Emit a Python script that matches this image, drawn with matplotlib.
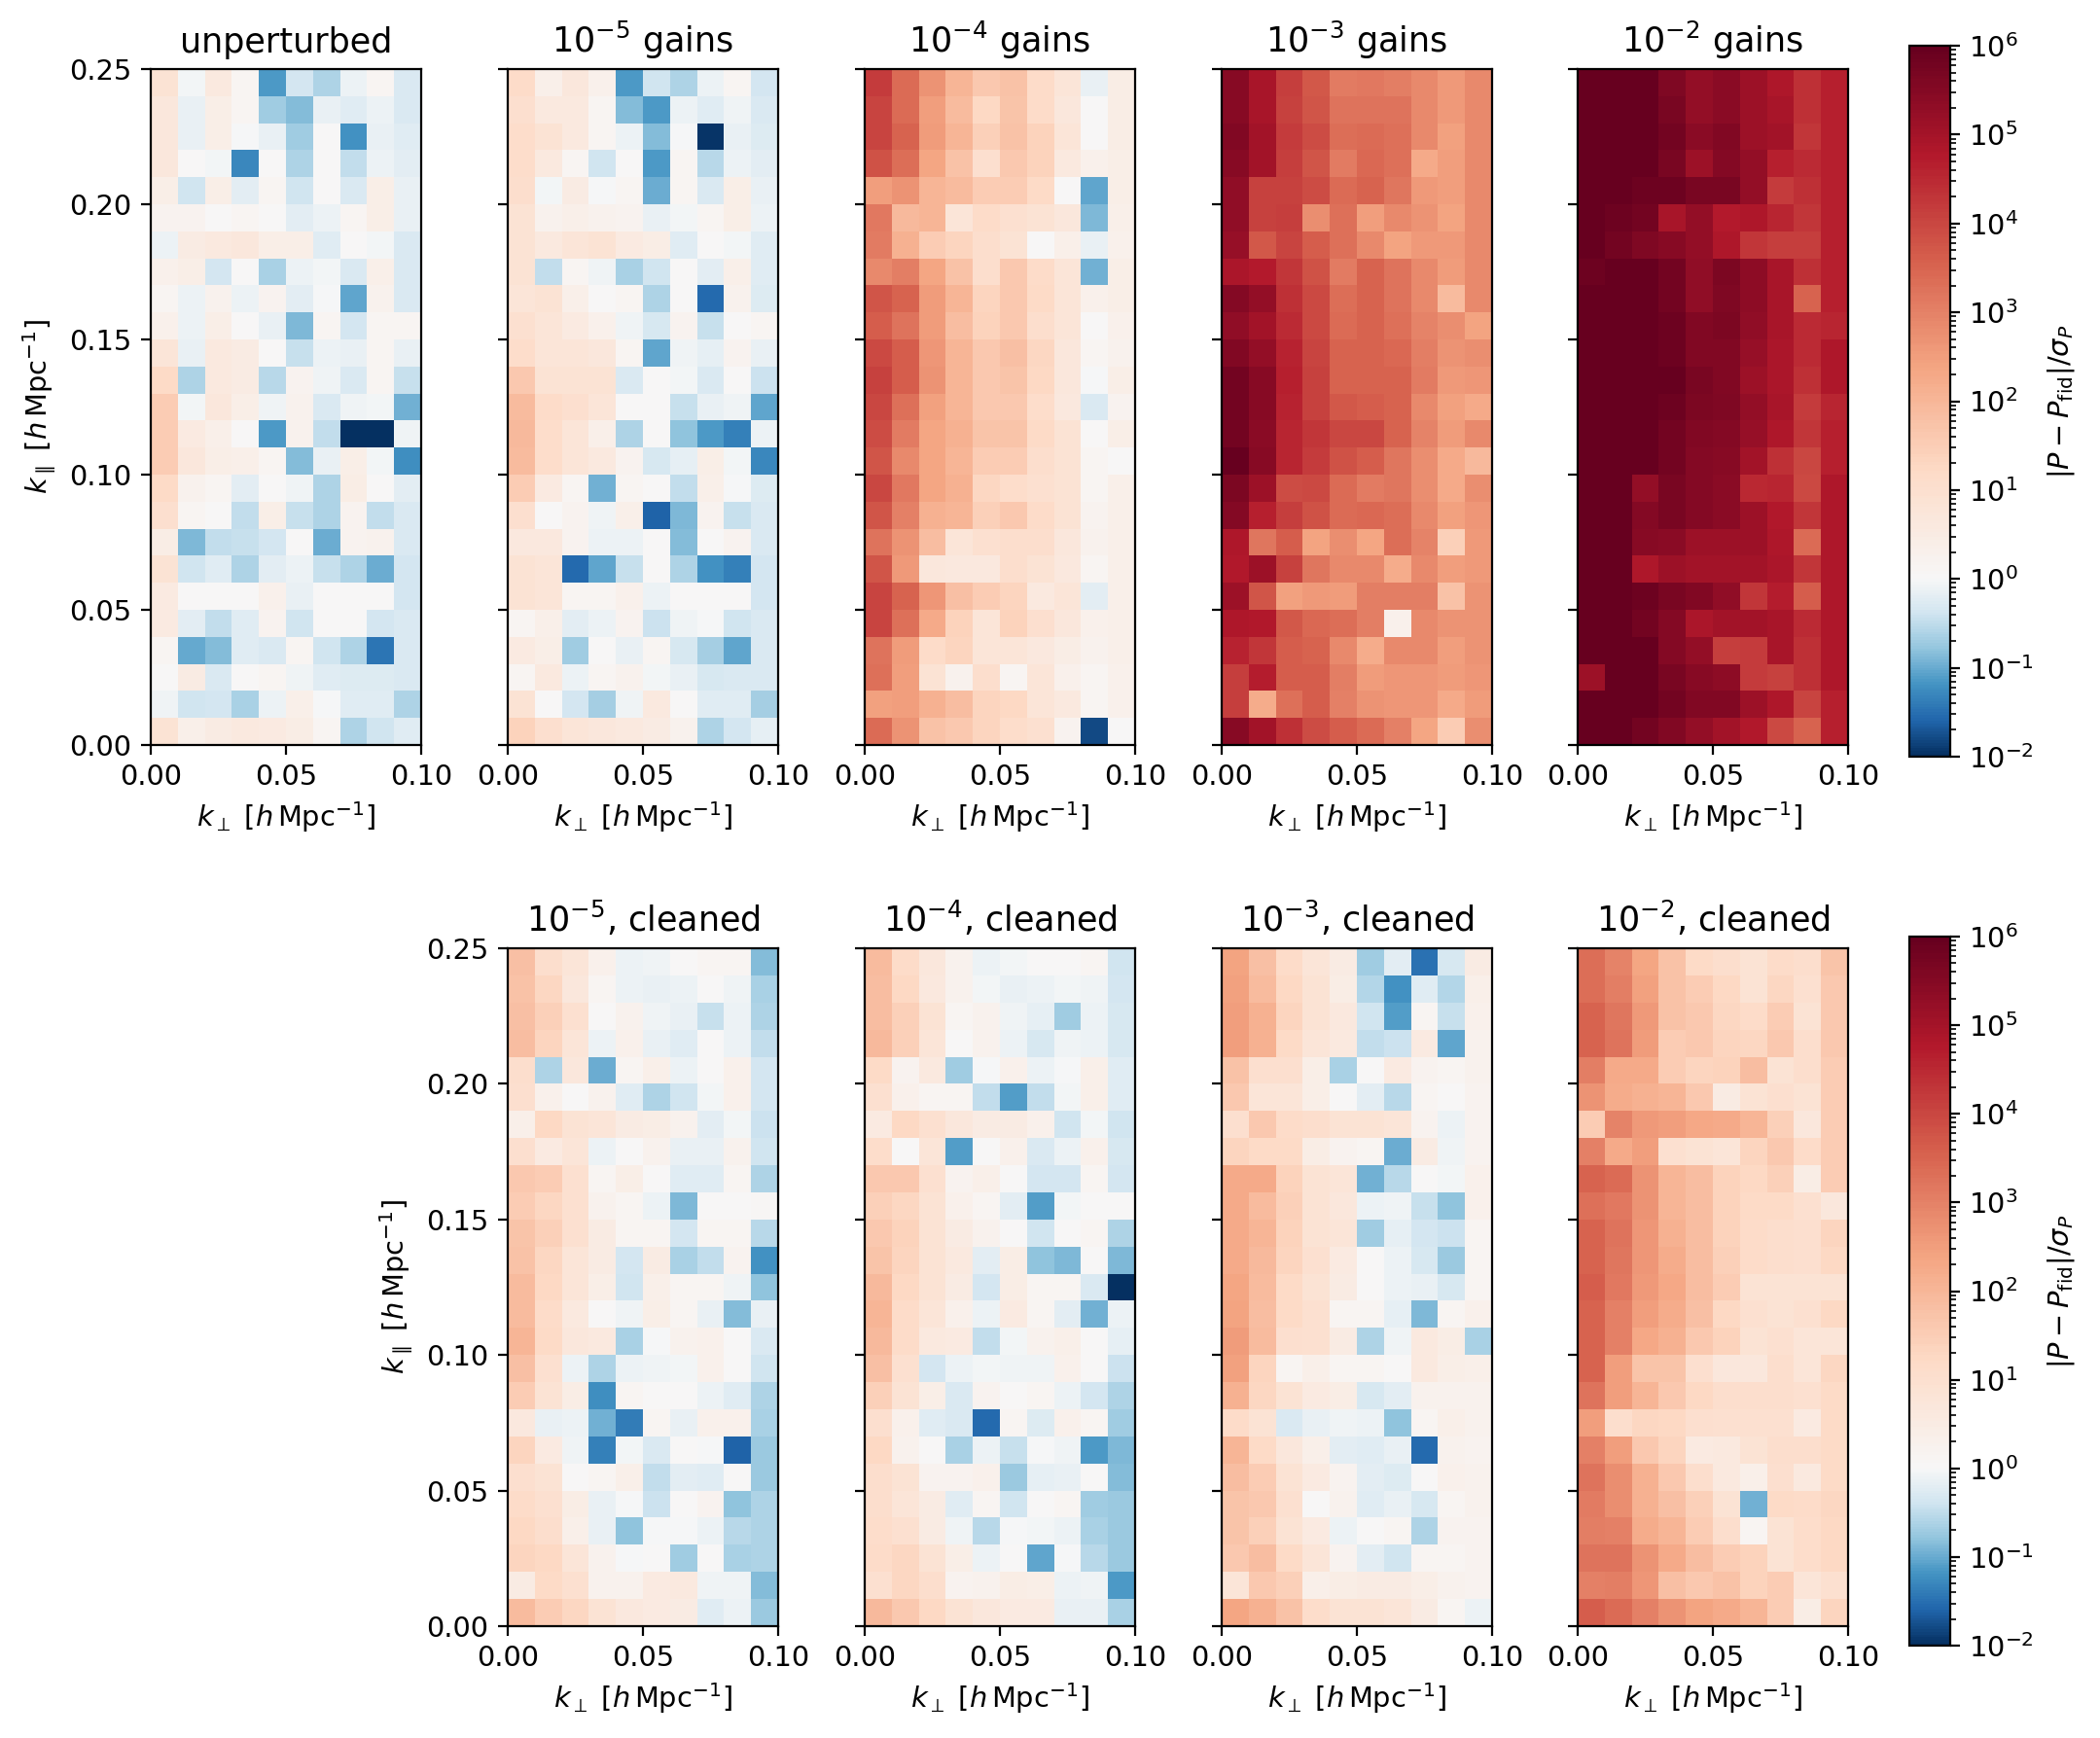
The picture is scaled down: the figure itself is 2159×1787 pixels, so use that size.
import numpy as np
import matplotlib
matplotlib.use("Agg")
import matplotlib.pyplot as plt
from matplotlib.colors import ListedColormap, LogNorm

# log10(|P - Pfid| / sigma), rows listed from the top of the panel (high k_par) down
unperturbed = [
    [0.9, -0.05, 0.6, 0.15, -1.15, -0.35, -0.6, -0.1, 0.15, -0.3],
    [0.7, -0.15, 0.4, 0.1, -0.7, -0.85, -0.15, -0.25, -0.1, -0.3],
    [0.7, -0.15, 0.4, -0.03, -0.15, -0.7, 0, -1.2, -0.15, -0.25],
    [0.7, 0.05, -0.05, -1.3, 0, -0.6, 0, -0.5, -0.1, -0.2],
    [0.4, -0.4, 0.4, -0.2, 0.15, -0.4, 0.05, -0.3, 0.4, -0.15],
    [0.2, 0.2, 0.05, 0.1, 0, -0.2, -0.1, 0.1, 0.4, -0.15],
    [-0.1, 0.5, 0.6, 0.7, 0.4, 0.4, -0.25, 0, -0.05, -0.3],
    [0.3, 0.4, -0.35, 0, -0.65, -0.12, -0.05, -0.3, 0.35, -0.3],
    [0.15, -0.12, 0.25, -0.1, 0.2, -0.2, -0.02, -1.05, 0.25, -0.3],
    [0.3, -0.12, 0.4, 0, -0.15, -0.9, 0.15, -0.35, 0.1, 0.15],
    [0.8, -0.15, 0.6, 0.5, 0, -0.45, -0.1, -0.15, 0.15, -0.15],
    [1.2, -0.6, 0.6, 0.5, -0.55, 0.2, -0.07, -0.3, 0.1, -0.45],
    [1.55, -0.05, 0.7, 0.4, -0.07, 0.25, -0.3, -0.07, -0.05, -0.95],
    [1.55, 0.55, 0.35, 0.05, -1.15, 0.25, -0.5, -2, -2, -0.08],
    [1.55, 0.7, 0.4, 0.35, 0.15, -0.85, -0.13, 0.4, -0.05, -1.25],
    [1.2, 0.25, 0.1, -0.2, 0.05, -0.08, -0.6, 0.45, 0, -0.2],
    [1.0, 0.15, 0, -0.5, 0.4, -0.45, -0.6, 0.2, -0.5, -0.3],
    [0.45, -0.9, -0.5, -0.45, -0.35, 0, -1, 0.2, 0.25, -0.3],
    [0.85, -0.4, -0.25, -0.6, -0.2, -0.1, -0.45, -0.6, -1, -0.35],
    [0.55, 0, 0, 0, 0.3, -0.15, 0, 0, 0, -0.35],
    [0.55, -0.2, -0.5, -0.25, 0.2, -0.4, 0, 0, -0.35, -0.3],
    [0.15, -1.02, -0.85, -0.25, -0.3, 0.15, -0.4, -0.6, -1.45, -0.3],
    [0, 0.5, -0.3, 0, 0.15, -0.08, -0.25, -0.27, -0.27, -0.3],
    [-0.08, -0.4, -0.35, -0.65, -0.1, 0.35, -0.03, -0.25, -0.25, -0.6],
    [0.9, 0.35, 0.5, 0.6, 0.55, 0.45, 0.1, -0.6, -0.4, -0.25],
]
gains_1e5 = [
    [1.15, 0.35, 0.7, 0.3, -1.15, -0.4, -0.6, -0.12, 0.15, -0.35],
    [1.0, 0.6, 0.6, 0.15, -0.85, -1.15, -0.1, -0.25, -0.08, -0.3],
    [1.1, 0.9, 0.6, 0.15, -0.12, -0.85, -0.02, -1.95, -0.15, -0.27],
    [1.1, 0.6, 0.1, -0.4, 0, -1.15, 0.1, -0.55, -0.1, -0.2],
    [1.05, -0.05, 0.5, -0.02, 0.1, -1, 0.15, -0.3, 0.4, -0.15],
    [0.85, 0.25, 0.35, 0.25, 0.2, -0.15, -0.05, 0.1, 0.4, -0.12],
    [0.9, 0.6, 0.75, 0.85, 0.55, 0.45, -0.25, 0, -0.05, -0.22],
    [0.85, -0.5, 0.12, -0.08, -0.65, -0.4, 0, -0.2, 0.35, -0.25],
    [0.75, 0.85, 0.35, 0.05, 0.15, -0.6, 0.05, -1.55, 0.25, -0.28],
    [0.95, 0.75, 0.55, 0.3, -0.08, -0.33, 0.2, -0.45, 0.05, 0.15],
    [1.1, 0.8, 0.8, 0.7, 0.1, -1.05, -0.08, -0.18, 0.2, -0.15],
    [1.6, 0.85, 0.85, 0.85, -0.3, 0, -0.05, -0.3, 0.05, -0.42],
    [1.9, 1.15, 1.0, 0.75, 0, 0, -0.45, -0.15, -0.08, -1.05],
    [1.95, 1.1, 0.75, 0.35, -0.6, 0.05, -0.8, -1.15, -1.35, -0.12],
    [1.9, 1.1, 0.75, 0.6, 0.2, -0.33, -0.17, 0.4, -0.05, -1.3],
    [1.55, 0.55, 0.15, -0.95, 0.15, 0, -0.5, 0.35, -0.02, -0.28],
    [1.0, 0, 0.2, -0.08, 0.35, -1.6, -0.9, 0.2, -0.45, -0.3],
    [0.65, 0.65, 0.2, -0.12, -0.1, 0, -0.85, 0.05, 0.2, -0.3],
    [0.85, 0.75, -1.55, -1.05, -0.45, 0, -0.62, -1.2, -1.35, -0.35],
    [0.85, 0.75, 0.15, 0.1, 0.3, -0.1, 0, 0, 0, -0.35],
    [0.15, 0.35, -0.2, -0.12, 0.2, -0.42, -0.07, -0.03, -0.38, -0.3],
    [0.55, 0.4, -0.7, 0, -0.15, 0.1, -0.33, -0.68, -1.05, -0.3],
    [0.1, 0.6, -0.1, 0.1, 0.25, -0.05, -0.15, -0.33, -0.3, -0.3],
    [0.9, 0, -0.35, -0.68, -0.08, 0.6, 0.03, -0.25, -0.22, -0.68],
    [1.4, 1.0, 0.75, 0.7, 0.6, 0.5, 0.25, -0.6, -0.37, -0.17],
]
gains_1e4 = [
    [4.2, 3.4, 2.7, 2.0, 1.6, 1.75, 1.15, 0.75, -0.15, 0.45],
    [4.05, 3.4, 2.5, 1.9, 1.25, 1.7, 1.15, 0.7, 0.05, 0.45],
    [4.05, 3.5, 2.55, 2.0, 1.45, 1.75, 1.4, 0.8, 0.05, 0.45],
    [3.8, 3.35, 2.35, 1.75, 1.0, 1.65, 1.4, 0.6, 0.3, 0.4],
    [2.5, 2.7, 2.05, 1.9, 1.5, 1.55, 1.2, 0, -1.05, 0.4],
    [3.15, 1.95, 2.0, 0.75, 1.15, 0.95, 0.9, 0.7, -0.9, 0.35],
    [3.1, 2.15, 1.55, 1.35, 1.05, 0.85, 0, 0.35, -0.15, 0.3],
    [2.85, 3.05, 2.35, 1.75, 1.05, 1.6, 1.15, 0.8, -0.95, 0.4],
    [3.75, 3.55, 2.55, 2, 1.35, 1.6, 1.2, 0.8, 0.3, 0.4],
    [3.65, 3.25, 2.55, 1.85, 1.4, 1.6, 1.05, 0.75, 0.05, 0.3],
    [3.95, 3.6, 2.65, 2.05, 1.65, 1.8, 1.3, 0.7, 0.1, 0.25],
    [4.1, 3.6, 2.7, 2.05, 1.65, 1.7, 1.25, 0.7, -0.03, 0.4],
    [4.0, 3.3, 2.45, 2.05, 1.65, 1.6, 1.1, 0.65, -0.3, 0.2],
    [3.9, 3.1, 2.35, 2.1, 1.7, 1.7, 1.2, 0.85, 0, 0.4],
    [3.75, 2.9, 2.35, 2.05, 1.55, 1.55, 1.05, 0.9, 0.15, 0],
    [4.0, 3.15, 2.35, 2.1, 1.3, 1.1, 0.95, 0.9, 0.15, 0.35],
    [3.75, 3.0, 2.1, 2.0, 1.45, 1.6, 1.15, 0.9, 0.2, 0.35],
    [3.25, 2.7, 1.85, 0.75, 0.95, 1.05, 1.05, 0.7, 0.25, 0.35],
    [3.75, 2.6, 0.7, 0.65, 0.65, 1.05, 0.85, 0.65, 0.15, 0.35],
    [4.05, 3.5, 2.65, 1.8, 1.5, 1.35, 0.6, 0.75, -0.2, 0.35],
    [4.05, 3.3, 2.25, 1.4, 0.8, 1.4, 1.0, 0.7, 0.3, 0.35],
    [3.25, 2.55, 1.15, 1.35, 0.8, 0.8, 0.65, 0.45, 0.25, 0.35],
    [3.3, 2.5, 0.9, 0.25, 1.05, 0.1, 0.8, 0.3, 0.1, 0.3],
    [2.45, 2.5, 2.15, 1.85, 1.35, 1.25, 0.75, 0.6, 0.15, 0.3],
    [3.4, 2.7, 1.75, 1.6, 1.35, 1.1, 0.95, 0.2, -1.8, 0.05],
]
gains_1e3 = [
    [5.45, 4.95, 4.15, 3.7, 3.1, 3.15, 3.05, 2.85, 2.6, 2.85],
    [5.45, 4.95, 4.1, 3.75, 3.25, 3.25, 3.25, 2.9, 2.6, 2.85],
    [5.55, 5.05, 4.2, 3.9, 3.35, 3.4, 3.3, 2.9, 2.45, 2.85],
    [5.45, 5.05, 4.15, 3.75, 3.1, 3.45, 3.3, 2.25, 2.5, 2.85],
    [5.3, 4.1, 4.1, 3.9, 3.4, 3.5, 3.2, 2.6, 2.5, 2.85],
    [5.3, 4.1, 4.15, 2.8, 3.3, 2.5, 2.85, 2.7, 2.4, 2.85],
    [5.2, 3.7, 4.05, 3.65, 3.3, 2.9, 2.4, 2.6, 2.6, 2.85],
    [4.9, 4.75, 4.3, 3.8, 3.1, 3.5, 3.25, 2.85, 2.55, 2.85],
    [5.5, 5.25, 4.4, 3.95, 3.35, 3.5, 3.25, 2.9, 1.9, 2.85],
    [5.3, 5.05, 4.45, 3.95, 3.4, 3.5, 3.3, 2.95, 2.75, 2.4],
    [5.55, 5.25, 4.6, 4.05, 3.55, 3.55, 3.45, 3.05, 2.7, 2.8],
    [5.75, 5.45, 4.65, 4.1, 3.55, 3.55, 3.5, 3.1, 2.6, 2.65],
    [5.75, 5.45, 4.6, 4.1, 3.7, 3.65, 3.5, 2.85, 2.45, 2.25],
    [5.8, 5.4, 4.55, 4.3, 4.0, 4.0, 3.55, 2.95, 2.55, 2.85],
    [5.95, 5.45, 4.55, 4.2, 3.8, 3.65, 3.2, 2.75, 2.25, 1.95],
    [5.65, 5.1, 3.9, 3.95, 3.4, 3.1, 3.2, 2.8, 2.25, 2.75],
    [5.5, 4.65, 4.15, 3.8, 3.4, 3.45, 3.35, 2.85, 2.45, 2.65],
    [4.85, 3.2, 3.65, 2.4, 2.75, 2.35, 3.35, 2.95, 1.45, 2.6],
    [4.8, 5.15, 4.1, 3.2, 2.9, 2.85, 2.2, 2.85, 2.5, 2.6],
    [5.1, 3.75, 2.45, 2.6, 2.55, 3.05, 3.05, 3.05, 1.75, 2.7],
    [4.85, 4.8, 3.7, 3.45, 3.35, 3.05, 0.3, 2.9, 2.7, 2.7],
    [4.6, 4.3, 3.6, 3.5, 2.9, 2.2, 2.9, 2.9, 2.5, 2.7],
    [4.15, 4.7, 3.65, 3.6, 3.05, 2.55, 2.65, 2.65, 2.55, 2.65],
    [4.15, 2.2, 3.3, 3.65, 3.0, 2.7, 2.65, 2.65, 2.25, 2.55],
    [5.45, 5.05, 4.4, 3.9, 3.6, 3.4, 3.0, 2.35, 1.55, 2.75],
]
gains_1e2 = [
    [6, 6, 6, 5.6, 5.25, 5.4, 5.1, 4.85, 4.4, 4.65],
    [6, 6, 6, 5.7, 5.25, 5.4, 5.15, 4.95, 4.35, 4.65],
    [6, 6, 6, 5.75, 5.4, 5.55, 5.15, 5.0, 4.25, 4.65],
    [6, 6, 5.95, 5.7, 5.15, 5.5, 5.25, 4.65, 4.45, 4.65],
    [6, 6, 5.85, 5.9, 5.7, 5.7, 5.25, 4.2, 4.4, 4.65],
    [6, 5.85, 5.75, 4.95, 5.25, 4.75, 4.85, 4.55, 4.3, 4.65],
    [6, 5.75, 5.6, 5.45, 5.25, 4.85, 4.3, 4.15, 4.15, 4.65],
    [5.85, 6, 6, 5.75, 5.3, 5.65, 5.35, 4.95, 4.4, 4.65],
    [6, 6, 6, 5.75, 5.3, 5.6, 5.35, 4.95, 3.55, 4.65],
    [6, 6, 6, 5.85, 5.55, 5.65, 5.3, 4.95, 4.45, 4.55],
    [6, 6, 6, 5.9, 5.55, 5.55, 5.2, 4.9, 4.45, 4.85],
    [6, 6, 6, 5.95, 5.7, 5.55, 5.15, 4.9, 4.4, 4.85],
    [6, 6, 6, 5.85, 5.65, 5.6, 5.25, 4.95, 4.2, 4.55],
    [6, 6, 6, 5.8, 5.55, 5.5, 5.2, 4.85, 4.25, 4.65],
    [6, 6, 6, 5.8, 5.5, 5.45, 5.05, 4.4, 4.0, 4.65],
    [6, 6, 5.25, 5.7, 5.5, 5.4, 4.5, 4.55, 3.95, 4.85],
    [6, 5.95, 5.5, 5.7, 5.5, 5.4, 5.1, 4.8, 4.3, 4.85],
    [6, 6, 5.45, 5.4, 5.1, 5.15, 5.1, 4.85, 3.4, 4.85],
    [6, 6, 4.85, 5.1, 5.05, 5.05, 5.05, 4.9, 4.25, 4.85],
    [6, 6, 5.9, 5.7, 5.55, 5.3, 4.3, 4.7, 3.65, 4.85],
    [6, 6, 5.75, 5.5, 4.9, 5.05, 5.05, 4.95, 4.45, 4.85],
    [6, 6, 6, 5.5, 5.25, 4.15, 4.2, 4.95, 4.35, 4.85],
    [5.15, 6, 6, 5.7, 5.45, 5.35, 4.2, 4.1, 4.35, 4.85],
    [6, 6, 6, 5.8, 5.55, 5.55, 5.15, 4.85, 4.05, 4.65],
    [6, 6, 5.75, 5.55, 5.25, 5.0, 4.8, 3.95, 3.5, 4.65],
]
cleaned_1e5 = [
    [1.8, 1.05, 0.75, 0.3, -0.12, -0.08, 0, 0.15, 0.15, -0.85],
    [1.75, 1.3, 0.7, 0.15, -0.12, -0.15, -0.12, 0.02, -0.08, -0.65],
    [1.8, 1.45, 0.95, 0.05, 0.25, -0.08, -0.15, -0.45, -0.12, -0.6],
    [1.85, 1.35, 0.75, -0.12, 0.3, -0.15, -0.25, 0, -0.1, -0.5],
    [1.05, -0.6, 0.7, -1, 0.15, 0.35, -0.1, 0.05, 0.3, -0.35],
    [1.0, 0.3, 0.05, 0.25, -0.25, -0.6, -0.4, -0.05, 0.3, -0.35],
    [0.35, 1.25, 0.85, 0.8, 0.5, 0.45, 0.25, -0.2, -0.05, -0.42],
    [1.0, 0.55, 0.75, -0.12, 0.02, 0.25, -0.15, -0.15, 0.25, -0.4],
    [1.6, 1.55, 0.95, 0.1, 0.4, 0.05, -0.25, -0.22, 0.1, -0.6],
    [1.55, 1.3, 0.95, 0.25, 0.1, -0.1, -0.9, 0, 0, 0.08],
    [1.7, 1.45, 0.95, 0.5, 0.15, 0.1, -0.37, 0.1, 0.1, -0.55],
    [1.75, 1.3, 0.75, 0.5, -0.35, 0.5, -0.65, -0.5, 0.2, -1.2],
    [1.9, 1.25, 0.8, 0.4, -0.4, 0.35, 0.1, 0.15, -0.07, -0.8],
    [1.9, 1.15, 0.6, 0.05, -0.07, 0.4, 0.15, -0.15, -0.85, -0.15],
    [2.0, 1.2, 0.7, 0.6, -0.65, -0.02, 0.25, 0.3, 0.02, -0.3],
    [1.8, 0.95, -0.1, -0.6, -0.1, -0.08, -0.05, 0.3, 0.05, -0.4],
    [1.5, 0.85, 0.45, -1.25, 0.15, 0, 0.05, -0.1, -0.25, -0.6],
    [0.65, -0.15, -0.12, -0.95, -1.4, 0.15, -0.15, 0.3, 0.3, -0.65],
    [1.35, 0.55, -0.08, -1.35, -0.05, -0.3, 0, -0.02, -1.6, -0.75],
    [1.0, 0.9, 0, 0.15, 0.35, -0.5, -0.2, -0.25, 0.05, -0.72],
    [1.15, 0.95, 0.45, -0.15, -0.02, -0.42, 0, 0.2, -0.8, -0.62],
    [1.25, 1.05, 0.35, -0.15, -0.8, -0.02, -0.02, -0.1, -0.55, -0.62],
    [1.35, 1.25, 0.75, 0.25, -0.02, 0.05, -0.7, 0, -0.65, -0.62],
    [0.5, 1.2, 0.95, 0.25, 0.25, 0.55, 0.6, -0.08, -0.08, -0.85],
    [1.9, 1.55, 1.3, 0.9, 0.65, 0.55, 0.5, -0.25, -0.12, -0.72],
]
cleaned_1e4 = [
    [1.9, 1.15, 0.7, 0.25, -0.1, -0.05, 0.05, 0.05, 0.1, -0.4],
    [1.85, 1.25, 0.65, 0.25, -0.05, -0.13, -0.12, -0.05, -0.08, -0.37],
    [1.85, 1.45, 0.9, 0.1, 0.25, -0.07, -0.18, -0.7, -0.12, -0.33],
    [1.95, 1.45, 0.75, 0.02, 0.25, -0.12, -0.33, -0.07, -0.1, -0.33],
    [1.2, 0.2, 0.6, -0.7, -0.02, 0.3, -0.1, -0.02, 0.35, -0.25],
    [0.95, 0.3, 0.1, 0.1, -0.5, -1.1, -0.5, -0.05, 0.35, -0.25],
    [0.55, 1.25, 0.95, 0.7, 0.5, 0.5, 0.3, -0.4, -0.05, -0.4],
    [1.1, 0.02, 0.8, -1.1, 0, 0.3, -0.3, -0.12, 0.3, -0.33],
    [1.65, 1.6, 0.95, 0.2, 0.35, 0.05, -0.37, -0.37, 0.15, -0.37],
    [1.45, 1.3, 0.85, 0.3, 0.1, -0.2, -1.1, -0.05, 0, 0.05],
    [1.6, 1.4, 0.9, 0.5, 0.25, 0.05, -0.4, 0, 0.15, -0.6],
    [1.7, 1.35, 0.9, 0.6, -0.2, 0.45, -0.8, -0.9, 0, -0.9],
    [1.95, 1.25, 0.9, 0.5, -0.35, 0.45, 0.1, 0.15, -0.3, -2],
    [2.0, 1.15, 0.75, 0.3, -0.1, 0.55, 0.15, -0.2, -0.95, -0.1],
    [1.95, 1.15, 0.6, 0.55, -0.5, -0.05, 0.25, 0.35, 0, -0.17],
    [1.8, 0.95, -0.35, -0.12, -0.05, -0.07, -0.07, 0.3, 0, -0.42],
    [1.45, 0.9, 0.4, -0.3, 0.2, 0, 0.1, -0.1, -0.35, -0.62],
    [1.0, 0.3, -0.22, -0.3, -1.55, 0.15, -0.27, 0.3, 0.1, -0.7],
    [1.25, 0.25, 0.05, -0.63, -0.1, -0.45, -0.03, -0.07, -1.15, -0.9],
    [1.05, 0.85, 0.2, 0.2, 0.3, -0.72, -0.18, -0.15, 0.05, -0.85],
    [1.05, 0.8, 0.5, -0.25, 0.1, -0.4, 0, 0.1, -0.7, -0.72],
    [1.1, 0.95, 0.5, -0.08, -0.55, -0.02, -0.05, -0.1, -0.65, -0.72],
    [1.15, 1.3, 0.85, 0.4, -0.1, 0, -1.05, -0.02, -0.55, -0.72],
    [0.95, 1.3, 1.05, 0.2, 0.25, 0.45, 0.4, -0.12, -0.08, -1.15],
    [1.95, 1.65, 1.25, 0.85, 0.7, 0.55, 0.55, -0.13, -0.15, -0.65],
]
cleaned_1e3 = [
    [2.4, 1.8, 1.15, 0.75, 0.5, -0.7, -0.2, -1.5, -0.33, 0.5],
    [2.45, 1.9, 1.25, 0.85, 0.45, -0.57, -1.2, -0.22, -0.57, 0.35],
    [2.5, 2.1, 1.35, 0.9, 0.65, -0.4, -1.1, 0.1, -0.45, 0.3],
    [2.5, 2.1, 1.2, 0.8, 0.6, -0.5, -0.42, 0.55, -1.05, 0.25],
    [1.75, 1.0, 1.0, 0.4, -0.65, 0, 0.55, 0.2, 0.1, 0.25],
    [1.65, 0.8, 0.75, 0.4, 0, -0.2, -0.55, 0.1, 0.05, 0.2],
    [1.0, 1.65, 1.15, 1.05, 0.85, 0.85, 0.75, 0.2, -0.1, 0.2],
    [1.35, 1.2, 1.2, 0.45, 0.2, 0.1, -1, 0.5, -0.08, 0.2],
    [2.25, 2.25, 1.4, 0.85, 0.8, -0.95, -0.55, 0, -0.05, 0.3],
    [2.25, 1.9, 1.45, 0.9, 0.7, -0.1, -0.07, -0.45, -0.8, 0.3],
    [2.25, 2.0, 1.4, 0.9, 0.75, -0.7, -0.18, -0.37, -0.42, 0.1],
    [2.25, 1.95, 1.35, 0.95, 0.55, 0, -0.12, -0.33, -0.72, 0.1],
    [2.35, 1.9, 1.2, 0.9, 0.5, 0, -0.12, -0.15, -0.33, 0.1],
    [2.4, 1.85, 1.2, 0.95, 0.1, 0.1, -0.17, -0.9, 0.1, 0.3],
    [2.55, 1.9, 1.0, 0.95, 0.5, -0.6, -0.07, 0.6, 0.45, -0.65],
    [2.45, 1.35, 0.1, 0.35, 0.15, 0.1, 0.05, 0.6, 0.4, 0.35],
    [2.15, 1.3, 0.9, 0.55, 0.45, -0.33, -0.2, 0.25, 0.25, 0.25],
    [1.15, 0.85, -0.3, -0.15, -0.07, -0.12, -0.8, 0.1, 0.35, 0.25],
    [2.05, 1.2, 0.7, 0.35, -0.2, -0.25, -0.15, -1.55, 0.25, 0.2],
    [1.85, 1.55, 0.85, 0.55, 0.2, -0.2, -0.28, 0, 0.3, 0.25],
    [1.7, 1.65, 0.95, 0.05, 0.25, -0.25, -0.15, -0.33, 0.1, 0.25],
    [1.7, 1.45, 0.9, 0.55, -0.1, 0.05, 0.1, -0.6, 0.2, 0.2],
    [1.6, 1.85, 1.2, 0.8, 0.2, -0.2, -0.4, 0.15, 0.1, 0.2],
    [0.75, 1.6, 1.45, 0.35, 0.45, 0.5, 0.5, 0.4, 0.25, 0.2],
    [2.35, 2.15, 1.75, 1.1, 0.9, 0.85, 0.8, 0.5, 0.1, -0.12],
]
cleaned_1e2 = [
    [3.35, 2.95, 2.35, 1.75, 1.2, 1.05, 0.85, 1.15, 1.05, 1.7],
    [3.35, 3.05, 2.45, 1.75, 1.55, 1.25, 0.85, 1.3, 0.95, 1.6],
    [3.55, 3.2, 2.6, 1.75, 1.65, 1.3, 1.15, 1.55, 0.9, 1.6],
    [3.5, 3.25, 2.55, 1.5, 1.65, 1.35, 1.3, 1.65, 1.05, 1.6],
    [3.05, 2.25, 2.25, 1.5, 1.35, 1.4, 1.85, 0.85, 1.05, 1.55],
    [2.7, 2.2, 2.15, 2.0, 1.65, 0.5, 0.9, 1.0, 0.9, 1.5],
    [1.55, 2.95, 2.6, 2.5, 2.3, 2.25, 2.0, 1.45, 0.7, 1.5],
    [3.0, 2.25, 2.5, 0.95, 0.9, 0.8, 1.35, 1.65, 1.15, 1.5],
    [3.5, 3.4, 2.7, 2.0, 1.85, 1.4, 1.25, 1.45, 0.45, 1.55],
    [3.3, 3.15, 2.7, 2.0, 1.85, 1.4, 1.2, 1.2, 0.95, 0.7],
    [3.5, 3.25, 2.65, 2.1, 1.85, 1.4, 1.15, 1.05, 1.0, 1.35],
    [3.5, 3.2, 2.65, 2.2, 1.85, 1.45, 1.15, 1.05, 1.0, 1.25],
    [3.6, 3.15, 2.6, 2.3, 1.85, 1.5, 0.9, 0.9, 0.85, 0.85],
    [3.55, 3.0, 2.5, 2.2, 1.8, 1.25, 0.95, 0.9, 0.95, 1.25],
    [3.5, 3.0, 2.3, 2.1, 1.6, 1.4, 0.9, 0.95, 0.8, 0.8],
    [3.55, 2.5, 1.7, 1.7, 1.0, 0.7, 0.7, 1.05, 0.8, 1.3],
    [3.25, 2.5, 2.05, 1.65, 1.25, 1.05, 1.05, 1.05, 0.95, 1.2],
    [2.5, 1.05, 1.3, 1.25, 1.0, 0.95, 0.95, 0.95, 0.55, 1.2],
    [3.0, 2.5, 1.6, 1.35, 0.55, 0.6, 0.85, 1.05, 1.05, 1.2],
    [3.25, 2.8, 2.15, 1.6, 1.05, 0.6, 0.35, 1.0, 0.6, 1.2],
    [3.1, 2.8, 2.15, 1.8, 1.45, 0.9, -0.95, 1.2, 1.15, 1.3],
    [3.05, 3.0, 2.2, 2.0, 1.5, 1.05, 0.1, 0.9, 1.1, 1.25],
    [3.25, 3.25, 2.7, 2.25, 1.85, 1.5, 1.4, 0.85, 1.1, 1.25],
    [3.0, 3.05, 2.65, 1.8, 1.65, 1.75, 1.4, 1.55, 0.8, 0.95],
    [3.65, 3.4, 3.0, 2.7, 2.4, 2.25, 2.05, 1.5, 0.45, 1.35],
]

top_titles = ["unperturbed", r"$10^{-5}$ gains", r"$10^{-4}$ gains", r"$10^{-3}$ gains", r"$10^{-2}$ gains"]
bottom_titles = [r"$10^{-5}$, cleaned", r"$10^{-4}$, cleaned", r"$10^{-3}$, cleaned", r"$10^{-2}$, cleaned"]
top_panels = [unperturbed, gains_1e5, gains_1e4, gains_1e3, gains_1e2]
bottom_panels = [cleaned_1e5, cleaned_1e4, cleaned_1e3, cleaned_1e2]

k_perp = np.linspace(0, 0.1, 11)
k_par = np.linspace(0, 0.25, 26)

W, H = 2159, 1787
DPI = 200
plt.rcParams["font.size"] = 10.4
plt.rcParams["axes.titlesize"] = 12.6

# RdBu_r with its white centre moved to 10^0 on an 8 decade log axis
t = np.linspace(0, 1, 256)
logv = -2 + 8 * t
pos = np.where(logv < 0, (logv + 2) / 4, 0.5 + logv / 12)
cmap = ListedColormap(plt.get_cmap("RdBu_r")(pos))
norm = LogNorm(vmin=1e-2, vmax=1e6)

XLABEL = r"$k_\perp\ [h\,\mathrm{Mpc}^{-1}]$"
YLABEL = r"$k_\parallel\ [h\,\mathrm{Mpc}^{-1}]$"
CLABEL = r"$|P - P_\mathrm{fid}|/\sigma_P$"


def pixel_axes(fig, left, right, top, bottom):
    return fig.add_axes([left / W, 1 - bottom / H, (right - left) / W, (bottom - top) / H])


def draw_panel(ax, values, title, first):
    c = ax.pcolormesh(k_perp, k_par, 10.0 ** np.array(values)[::-1], cmap=cmap, norm=norm)
    ax.set_title(title)
    ax.set_xlim(0, 0.1)
    ax.set_ylim(0, 0.25)
    ax.set_xticks([0, 0.05, 0.1])
    ax.set_xticklabels(["0.00", "0.05", "0.10"])
    ax.set_yticks([0, 0.05, 0.1, 0.15, 0.2, 0.25])
    ax.set_xlabel(XLABEL, labelpad=3)
    if first:
        ax.set_yticklabels(["0.00", "0.05", "0.10", "0.15", "0.20", "0.25"])
        ax.set_ylabel(YLABEL)
    else:
        ax.set_yticklabels([])
    return c


fig = plt.figure(figsize=(W / DPI, H / DPI), dpi=DPI)

lefts = [155, 522, 889, 1256, 1622]
panel_w = 278

for i in range(5):
    ax = pixel_axes(fig, lefts[i], lefts[i] + panel_w, 71, 766)
    c = draw_panel(ax, top_panels[i], top_titles[i], i == 0)
for i in range(4):
    ax = pixel_axes(fig, lefts[i + 1], lefts[i + 1] + panel_w, 975, 1672)
    c = draw_panel(ax, bottom_panels[i], bottom_titles[i], i == 0)

for top, bottom in [(47, 778), (963, 1692)]:
    cax = pixel_axes(fig, 1963, 2005, top, bottom)
    cb = fig.colorbar(c, cax=cax)
    cb.set_label(CLABEL)

fig.savefig("out.png", dpi=DPI)
